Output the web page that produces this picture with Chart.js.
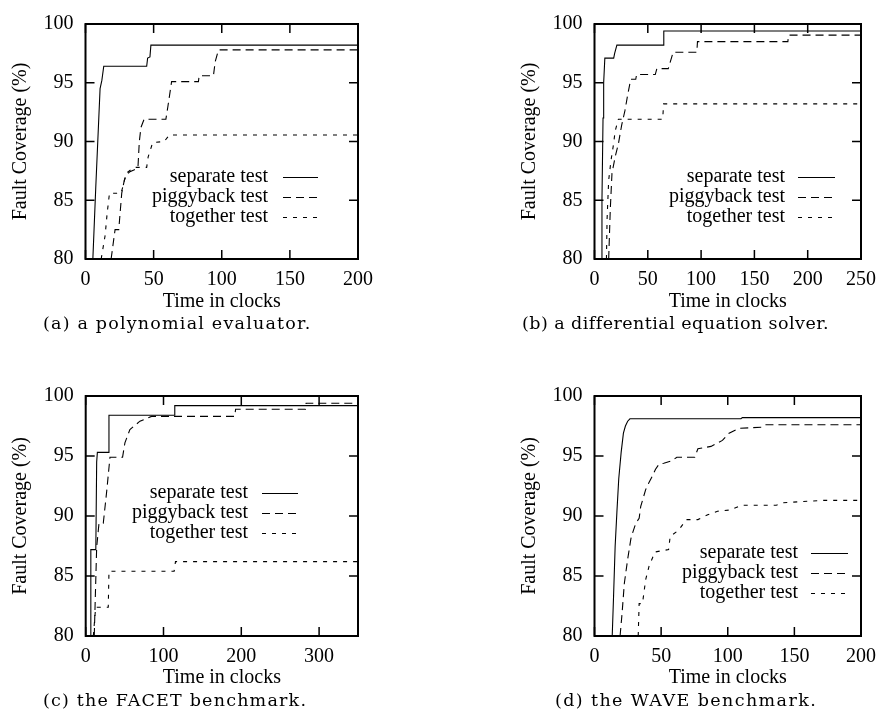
<!DOCTYPE html>
<html>
<head>
<meta charset="utf-8">
<script src="https://cdn.jsdelivr.net/npm/chart.js@4.4.1/dist/chart.umd.min.js"></script>
<style>
  body { margin: 0; background: #fff; width: 885px; height: 709px; position: relative; overflow: hidden; }
  canvas { position: absolute; }
  .cap { position: absolute; font-family: "DejaVu Serif", serif; font-size: 17.5px; letter-spacing: 0.4px;
         line-height: 20px; color: #000; white-space: nowrap; z-index: 2; }
</style>
</head>
<body>
<canvas id="pa"></canvas>
<canvas id="pb"></canvas>
<canvas id="pc"></canvas>
<canvas id="pd"></canvas>
<div class="cap" style="left:43px;top:313px;letter-spacing:1.2px">(a) a polynomial evaluator.</div>
<div class="cap" style="left:522px;top:313px;letter-spacing:0.45px">(b) a differential equation solver.</div>
<div class="cap" style="left:43px;top:690px;letter-spacing:1.2px">(c) the FACET benchmark.</div>
<div class="cap" style="left:555px;top:690px;letter-spacing:1.4px">(d) the WAVE benchmark.</div>
<script>
// series names
var seriesNames = ['separate test', 'piggyback test', 'together test'];
var yTicks = [80, 85, 90, 95, 100];

// (a) polynomial evaluator  [time, coverage]
var aSeparate = [[5.4,80],[7.5,86],[9.8,92.1],[10.7,94.5],[12,95.2],[13.4,96.4],[44.9,96.4],[45.6,97.1],[47.3,97.2],[48,98.2],[200,98.2]];
var aPiggyback = [[18.8,80],[21.7,82.5],[24.4,82.5],[26.6,85.6],[28.5,86.7],[29.8,87.1],[32.2,87.4],[35.9,87.6],[38.5,87.8],[39.5,90],[40.7,91.2],[43,91.9],[59,91.9],[60.5,93],[63.2,95.1],[82.9,95.1],[83.4,95.6],[93.9,95.6],[95.2,96.8],[97.6,97.8],[200,97.8]];
var aTogether = [[11.5,80],[14.4,82],[15.9,83.9],[17.6,85.6],[26.1,85.6],[28,86.4],[29.8,87.3],[33.4,87.6],[35.9,87.8],[44.9,87.8],[46,88.7],[49.3,89.9],[57.8,90],[61.5,90.55],[200,90.55]];

// (b) differential equation solver
var bSeparate = [[6.4,80],[7,85],[8,92],[8.6,95],[9.7,97.1],[18,97.1],[18.9,97.5],[21,98.2],[64.6,98.2],[65,99.4],[250,99.4]];
var bPiggyback = [[13.3,80],[14.8,84.2],[16.4,87.3],[19.4,88.7],[22.4,89.8],[25.5,91.4],[28.5,92.6],[31,93.9],[34,95.3],[38.7,95.3],[39.5,95.7],[57,95.7],[58.5,96.2],[69.2,96.2],[73.8,97.6],[96,97.6],[96.6,98.5],[181.4,98.5],[182,99.05],[250,99.05]];
var bTogether = [[11.2,80],[11.8,83.4],[13.3,86.7],[15.5,88.4],[17.9,89.8],[19.4,90.9],[20.3,91.2],[22.4,91.9],[64,91.9],[64.8,93.2],[250,93.2]];

// (c) FACET benchmark
var cSeparate = [[6.6,80],[6.6,87.2],[13,87.2],[14.1,94.5],[15,95.3],[29,95.3],[29.9,98.4],[113.7,98.4],[114.5,99.2],[350,99.2]];
var cPiggyback = [[11,80],[12,82.4],[14.1,87.4],[17.1,89.4],[22.6,89.4],[26.9,92],[31.2,94.9],[47.4,94.9],[50.4,96.1],[56.8,97.2],[69.7,97.9],[84.6,98.3],[191.5,98.3],[192.7,98.9],[282.5,98.9],[283.3,99.4],[350,99.4]];
var cTogether = [[9.8,80],[12.8,82.4],[29,82.4],[29.9,85.4],[113.7,85.4],[115.4,86.2],[350,86.2]];

// (d) WAVE benchmark
var dSeparate = [[13.3,80],[14.3,83.3],[15.5,87.5],[16.8,90.3],[18.2,93.1],[20,95.3],[21.7,96.9],[23.2,97.5],[24.9,97.9],[26.6,98.1],[109.9,98.1],[111,98.2],[200,98.2]];
var dPiggyback = [[19.2,80],[20.7,81.9],[22.4,84.4],[24.9,86.4],[27.3,88.1],[28.6,88.6],[31,89.4],[33.5,89.8],[34.7,90.8],[38.4,92.2],[40.9,92.8],[43.3,93.3],[45.8,93.9],[48.3,94.3],[52,94.4],[58.1,94.6],[61.8,94.9],[75.2,94.9],[77.6,95.6],[87.4,95.8],[96,96.3],[101,96.9],[108.2,97.3],[125.3,97.4],[127.8,97.6],[200,97.6]];
var dTogether = [[32.8,80],[33.5,82.7],[36,82.7],[38.4,84.7],[40.9,85.8],[45.3,87],[55.6,87.2],[56.8,88.3],[62.9,88.8],[69,89.7],[77.6,89.7],[85,90.1],[92.3,90.4],[102,90.5],[110.6,90.9],[136.4,90.9],[141.3,91.1],[155.9,91.2],[170.6,91.3],[200,91.3]];

var dashes = [[], [8, 5], [4, 6]];
var FONT = '"Liberation Serif", "Times New Roman", serif';
Chart.defaults.color = '#000';

function pts(arr) {
  return arr.map(function (p) { return {x: p[0], y: p[1]}; });
}

// gnuplot style frame, inward ticks on all sides, key drawn inside
var gnuFrame = {
  id: 'gnuFrame',
  afterDatasetsDraw: function (chart, args, opts) {
    var ctx = chart.ctx, a = chart.chartArea;
    var xs = chart.scales.x, ys = chart.scales.y;
    ctx.save();
    ctx.strokeStyle = '#000';
    ctx.lineWidth = 1.5;
    ctx.beginPath();
    xs.ticks.forEach(function (t) {
      var px = xs.getPixelForValue(t.value);
      ctx.moveTo(px, a.bottom); ctx.lineTo(px, a.bottom - 9);
      ctx.moveTo(px, a.top); ctx.lineTo(px, a.top + 9);
    });
    ys.ticks.forEach(function (t) {
      var py = ys.getPixelForValue(t.value);
      ctx.moveTo(a.left, py); ctx.lineTo(a.left + 9, py);
      ctx.moveTo(a.right, py); ctx.lineTo(a.right - 9, py);
    });
    ctx.stroke();
    ctx.lineWidth = 2;
    ctx.strokeRect(a.left, a.top, a.right - a.left, a.bottom - a.top);

    // key
    var k = opts.key;
    ctx.font = '20px ' + FONT;
    ctx.textAlign = 'right';
    ctx.textBaseline = 'middle';
    ctx.fillStyle = '#000';
    chart.data.datasets.forEach(function (ds, i) {
      var y = k.y + i * 20;
      ctx.fillText(ds.label, k.textRight, y);
      ctx.setLineDash(ds.borderDash || []);
      ctx.lineWidth = 1.1;
      ctx.beginPath();
      ctx.moveTo(k.x1, y + 0.5);
      ctx.lineTo(k.x2, y + 0.5);
      ctx.stroke();
    });
    ctx.restore();
  }
};

function makePanel(id, box, plot, xMax, xStep, yTitleX, xTitleGap, key, series) {
  var cv = document.getElementById(id);
  cv.width = box.w; cv.height = box.h;
  cv.style.left = box.l + 'px'; cv.style.top = box.t + 'px';

  var padLeft = yTitleX - box.l - 12;
  var yWidth = plot.l - box.l - padLeft;
  var xHeight = box.t + box.h - plot.b;

  var datasets = series.map(function (s, i) {
    return {
      label: seriesNames[i],
      data: pts(s),
      borderColor: '#000',
      borderWidth: 1.1,
      borderDash: dashes[i],
      pointRadius: 0,
      fill: false,
      tension: 0
    };
  });

  return new Chart(cv, {
    type: 'line',
    data: { datasets: datasets },
    plugins: [gnuFrame],
    options: {
      responsive: false,
      animation: false,
      layout: { padding: { left: padLeft, top: plot.t - box.t, right: box.l + box.w - plot.r, bottom: 0 } },
      plugins: {
        legend: { display: false },
        tooltip: { enabled: false },
        gnuFrame: {
          key: { textRight: key.text - box.l, x1: key.x1 - box.l, x2: key.x2 - box.l, y: key.y - box.t }
        }
      },
      scales: {
        x: {
          type: 'linear',
          min: 0, max: xMax,
          grid: { display: false, drawTicks: false },
          border: { display: false },
          ticks: { stepSize: xStep, includeBounds: false, padding: 9, maxRotation: 0,
                   font: { family: FONT, size: 20 } },
          title: { display: true, text: 'Time in clocks', font: { family: FONT, size: 20 },
                   padding: { top: 0, bottom: xHeight - 12 - xTitleGap } },
          afterFit: function (s) { s.height = xHeight; }
        },
        y: {
          min: 80, max: 100,
          grid: { display: false, drawTicks: false },
          border: { display: false },
          afterBuildTicks: function (s) { s.ticks = yTicks.map(function (v) { return {value: v}; }); },
          ticks: { padding: 12, font: { family: FONT, size: 20 } },
          title: { display: true, text: 'Fault Coverage (%)', font: { family: FONT, size: 20 },
                   padding: { top: 0, bottom: 0 } },
          afterFit: function (s) { s.width = yWidth; }
        }
      }
    }
  });
}

makePanel('pa', {l: 0, t: 0, w: 440, h: 330}, {l: 85.5, t: 19.5, r: 358, b: 259}, 200, 50, 20.7, 43,
  {text: 268, x1: 283, x2: 318, y: 177}, [aSeparate, aPiggyback, aTogether]);
makePanel('pb', {l: 440, t: 0, w: 445, h: 330}, {l: 594.5, t: 19.5, r: 867.5, b: 259}, 250, 50, 530, 43,
  {text: 785, x1: 798, x2: 835, y: 177}, [bSeparate, bPiggyback, bTogether]);
makePanel('pc', {l: 0, t: 340, w: 440, h: 369}, {l: 85.7, t: 396, r: 358, b: 636}, 350, 100, 20.7, 42,
  {text: 248, x1: 262, x2: 298, y: 493}, [cSeparate, cPiggyback, cTogether]);
makePanel('pd', {l: 440, t: 340, w: 445, h: 369}, {l: 594.5, t: 396, r: 867.5, b: 636}, 200, 50, 530, 42,
  {text: 798, x1: 811, x2: 848, y: 553}, [dSeparate, dPiggyback, dTogether]);
</script>
</body>
</html>
